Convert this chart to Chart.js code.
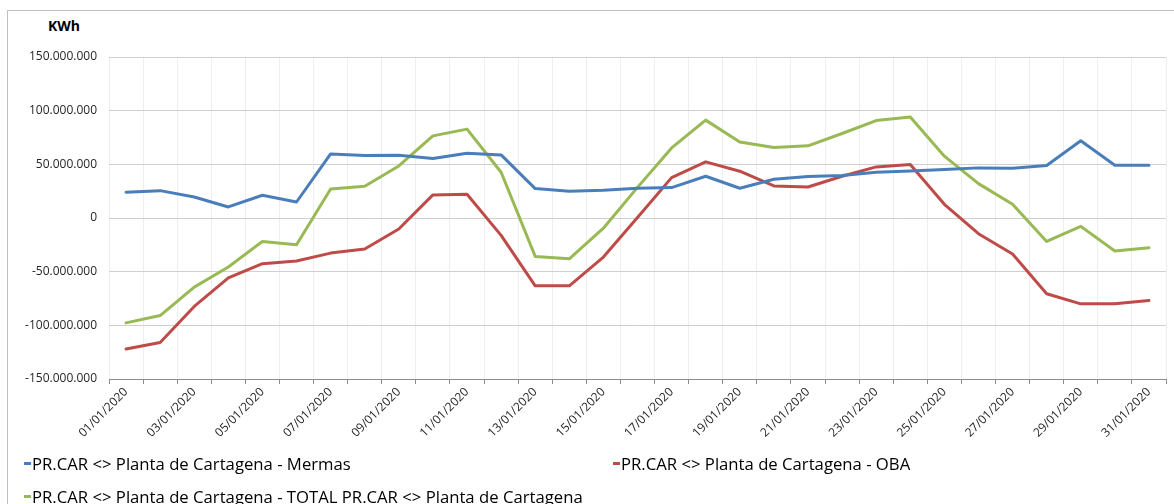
<!DOCTYPE html>
<html lang="es">
<head>
  <meta charset="UTF-8">
  <title>PR.CAR &lt;&gt; Planta de Cartagena</title>
  <script src="https://cdn.jsdelivr.net/npm/chart.js"></script>
  <style>
    body { margin: 0; background: #fff; font-family: 'Open Sans', sans-serif; color: #262626; }
    #wrap { position: relative; width: 1174px; height: 504px; overflow: hidden; }
    #frame {
      position: absolute; left: 7px; top: 10px; width: 1300px; height: 700px;
      border-left: 1px solid #c0c0c0; border-top: 1px solid #c0c0c0;
    }
    #unit { position: absolute; left: 48px; top: 16px; font-weight: bold; font-size: 14px; color: #000; }
    canvas { position: absolute; left: 0; top: 0; }
    #legend {
      position: absolute; left: 24px; top: 447px;
      display: grid; grid-template-columns: 589px auto;
      font-size: 16.7px; line-height: 33px; color: #000;
    }
    .item { display: flex; align-items: center; white-space: nowrap; }
    .item .box { display: inline-block; width: 7px; height: 3px; margin-right: 1px; }
  </style>
</head>
<body>
  <div id="wrap">
    <div id="frame"></div>
    <div id="unit">KWh</div>
    <canvas id="chart" width="1174" height="504"></canvas>
    <div id="legend"></div>
  </div>

  <script>
    const dates = [
      '01/01/2020', '02/01/2020', '03/01/2020', '04/01/2020', '05/01/2020', '06/01/2020',
      '07/01/2020', '08/01/2020', '09/01/2020', '10/01/2020', '11/01/2020', '12/01/2020',
      '13/01/2020', '14/01/2020', '15/01/2020', '16/01/2020', '17/01/2020', '18/01/2020',
      '19/01/2020', '20/01/2020', '21/01/2020', '22/01/2020', '23/01/2020', '24/01/2020',
      '25/01/2020', '26/01/2020', '27/01/2020', '28/01/2020', '29/01/2020', '30/01/2020',
      '31/01/2020'
    ];

    const mermas = [
      24000000, 25500000, 19600000, 10300000, 21200000, 14900000, 59700000, 58200000,
      58500000, 55400000, 60400000, 58800000, 27400000, 24900000, 25800000, 27800000,
      28300000, 38900000, 27700000, 36100000, 38600000, 39500000, 42600000, 43900000,
      45100000, 46700000, 46400000, 48900000, 71900000, 49200000, 49200000
    ];

    const oba = [
      -122000000, -116000000, -82400000, -55700000, -42600000, -40100000, -32700000, -28900000,
      -10300000, 21500000, 22100000, -16200000, -63200000, -63200000, -36400000, 500000,
      37600000, 52300000, 43600000, 29900000, 28900000, 38900000, 47600000, 49800000,
      12800000, -14600000, -33600000, -70600000, -80000000, -80000000, -76900000
    ];

    const total = [
      -97700000, -90900000, -64400000, -45700000, -21800000, -24900000, 27100000, 29600000,
      48500000, 76500000, 82800000, 42600000, -35800000, -38000000, -9500000, 28500000,
      65300000, 91200000, 70900000, 65600000, 67200000, 78700000, 90800000, 94000000,
      57600000, 32000000, 12800000, -21800000, -7800000, -30800000, -27700000
    ];

    const seriesNames = [
      'PR.CAR <> Planta de Cartagena - Mermas',
      'PR.CAR <> Planta de Cartagena - OBA',
      'PR.CAR <> Planta de Cartagena - TOTAL PR.CAR <> Planta de Cartagena'
    ];

    const seriesColors = ['#4a7ebb', '#be4b48', '#98b954'];

    function fmt(v) {
      const s = Math.abs(v).toFixed(0).replace(/\B(?=(\d{3})+(?!\d))/g, '.');
      return (v < 0 ? '-' : '') + s;
    }

    const tickFont = { family: "'Open Sans', sans-serif", size: 12 };

    const chart = new Chart(document.getElementById('chart'), {
      type: 'line',
      data: {
        labels: dates,
        datasets: [mermas, oba, total].map((d, i) => ({
          label: seriesNames[i],
          data: d,
          borderColor: seriesColors[i],
          backgroundColor: seriesColors[i],
          borderWidth: 3,
          pointRadius: 0,
          tension: 0,
          borderJoinStyle: 'round',
          borderCapStyle: 'round'
        }))
      },
      options: {
        responsive: false,
        animation: false,
        devicePixelRatio: 1,
        layout: { padding: { top: 57, right: 8, left: 0, bottom: 0 } },
        plugins: {
          legend: { display: false },
          tooltip: { enabled: false }
        },
        scales: {
          x: {
            offset: true,
            grid: { offset: true, color: '#eeeeee', tickColor: '#8c8c8c', tickLength: 5 },
            border: { color: '#8c8c8c', width: 1 },
            ticks: {
              autoSkip: false,
              minRotation: 45,
              maxRotation: 45,
              padding: 1,
              color: '#262626',
              font: tickFont,
              callback: (v, i) => (i % 2 === 0 ? dates[i] : '')
            },
            afterFit: s => { s.height = 125; }
          },
          y: {
            min: -150000000,
            max: 150000000,
            grid: { color: '#d0d0d0', drawTicks: false },
            border: { display: false },
            ticks: {
              stepSize: 50000000,
              padding: 12,
              color: '#262626',
              font: tickFont,
              callback: v => fmt(v)
            },
            afterFit: s => { s.width = 109; }
          }
        }
      }
    });

    const legend = document.getElementById('legend');
    chart.data.datasets.forEach(ds => {
      const item = document.createElement('div');
      item.className = 'item';
      const box = document.createElement('span');
      box.className = 'box';
      box.style.background = ds.borderColor;
      item.appendChild(box);
      item.appendChild(document.createTextNode(ds.label));
      legend.appendChild(item);
    });
  </script>
</body>
</html>
